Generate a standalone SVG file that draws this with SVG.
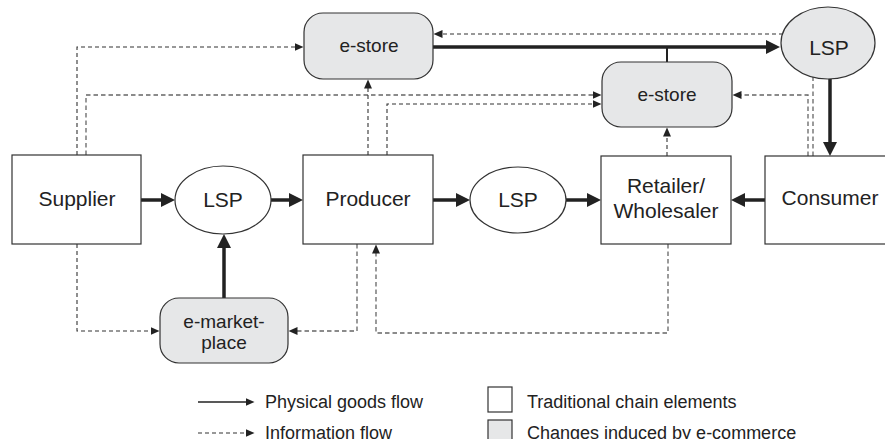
<svg xmlns="http://www.w3.org/2000/svg" width="885" height="439" viewBox="0 0 885 439">
<style>
.box{fill:#fff;stroke:#333;stroke-width:1.2}
.gray{fill:#e6e7e8;stroke:#333;stroke-width:1.2}
.t{font-family:"Liberation Sans",Arial,sans-serif;font-size:21px;fill:#222;text-anchor:middle}
.tg{font-family:"Liberation Sans",Arial,sans-serif;font-size:19px;fill:#222;text-anchor:middle}
.lg{font-family:"Liberation Sans",Arial,sans-serif;font-size:18px;fill:#222}
.thick{fill:none;stroke:#222;stroke-width:3.5}
.info{fill:none;stroke:#333;stroke-width:1.1;stroke-dasharray:4 3}
.info2{fill:none;stroke:#666;stroke-width:1.3;stroke-dasharray:4.5 3}
</style>
<defs>
<marker id="big" markerUnits="userSpaceOnUse" markerWidth="16" markerHeight="16" refX="1" refY="7" orient="auto">
<path d="M0,0 L14,7 L0,14 z" fill="#222"/>
</marker>
<marker id="sm" markerUnits="userSpaceOnUse" markerWidth="12" markerHeight="10" refX="0.5" refY="4" orient="auto">
<path d="M0,0 L9,4 L0,8 z" fill="#222"/>
</marker>
</defs>

<g id="connectors">
<path class="thick" d="M141,200 H162" marker-end="url(#big)"/>
<path class="thick" d="M271,200 H290" marker-end="url(#big)"/>
<path class="thick" d="M433,200 H457" marker-end="url(#big)"/>
<path class="thick" d="M566,200 H588" marker-end="url(#big)"/>
<path class="thick" d="M765,200 H744" marker-end="url(#big)"/>
<path class="thick" d="M224,298 V247" marker-end="url(#big)"/>
<path class="thick" d="M433,47 H767" marker-end="url(#big)"/>
<path class="thick" d="M830,79 V143" marker-end="url(#big)"/>
<path fill="none" stroke="#222" stroke-width="2" d="M667,62 V47"/>

<path class="info" d="M77,155 V47 H295" marker-end="url(#sm)"/>
<path class="info2" d="M86,155 V95 H593" marker-end="url(#sm)"/>
<path class="info" d="M368,155 V88" marker-end="url(#sm)"/>
<path class="info" d="M387,155 V104 H593" marker-end="url(#sm)"/>
<path class="info2" d="M808,156 V95 H741" marker-end="url(#sm)"/>
<path class="info2" d="M813,156 V77"/>
<path class="info" d="M783,34 H442" marker-end="url(#sm)"/>
<path class="info" d="M667,156 V136" marker-end="url(#sm)"/>
<path class="info" d="M77,244 V331 H151" marker-end="url(#sm)"/>
<path class="info2" d="M357,244 V331 H297" marker-end="url(#sm)"/>
<path class="info2" d="M668,244 V333 H376 V253" marker-end="url(#sm)"/>
</g>

<g id="supplier">
<rect class="box" x="12" y="155" width="129" height="89"/>
<text class="t" x="77" y="206">Supplier</text>
</g>
<g id="lsp1">
<ellipse class="box" cx="223" cy="200" rx="48" ry="34"/>
<text class="t" x="223" y="207">LSP</text>
</g>
<g id="producer">
<rect class="box" x="303" y="155" width="130" height="89"/>
<text class="t" x="368" y="206">Producer</text>
</g>
<g id="lsp2">
<ellipse class="box" cx="518" cy="200" rx="48" ry="33"/>
<text class="t" x="518" y="207">LSP</text>
</g>
<g id="retailer">
<rect class="box" x="601" y="156" width="130" height="88"/>
<text class="t" x="666" y="193">Retailer/</text>
<text class="t" x="666" y="218">Wholesaler</text>
</g>
<g id="consumer">
<rect class="box" x="765" y="156" width="140" height="88"/>
<text class="t" x="830" y="205">Consumer</text>
</g>
<g id="estore1">
<rect class="gray" x="304" y="13" width="129" height="66" rx="19" ry="19"/>
<text class="tg" x="369" y="52">e-store</text>
</g>
<g id="estore2">
<rect class="gray" x="602" y="62" width="130" height="65" rx="19" ry="19"/>
<text class="tg" x="667" y="101">e-store</text>
</g>
<g id="lsp3">
<ellipse class="gray" cx="828" cy="43" rx="47" ry="36"/>
<text class="t" x="829" y="55">LSP</text>
</g>
<g id="emarketplace">
<rect class="gray" x="160" y="298" width="128" height="65" rx="19" ry="19"/>
<text class="tg" x="224" y="328">e-market-</text>
<text class="tg" x="224" y="349">place</text>
</g>

<g id="legend">
<path fill="none" stroke="#222" stroke-width="1.3" d="M198,402 H246" marker-end="url(#sm)"/>
<text class="lg" x="265" y="408">Physical goods flow</text>
<path class="info" d="M198,433 H246" marker-end="url(#sm)"/>
<text class="lg" x="265" y="439">Information flow</text>
<rect class="box" x="488" y="387" width="24" height="25"/>
<text class="lg" x="527" y="408">Traditional chain elements</text>
<rect class="gray" x="488" y="420" width="24" height="25"/>
<text class="lg" x="527" y="439">Changes induced by e-commerce</text>
</g>
</svg>
